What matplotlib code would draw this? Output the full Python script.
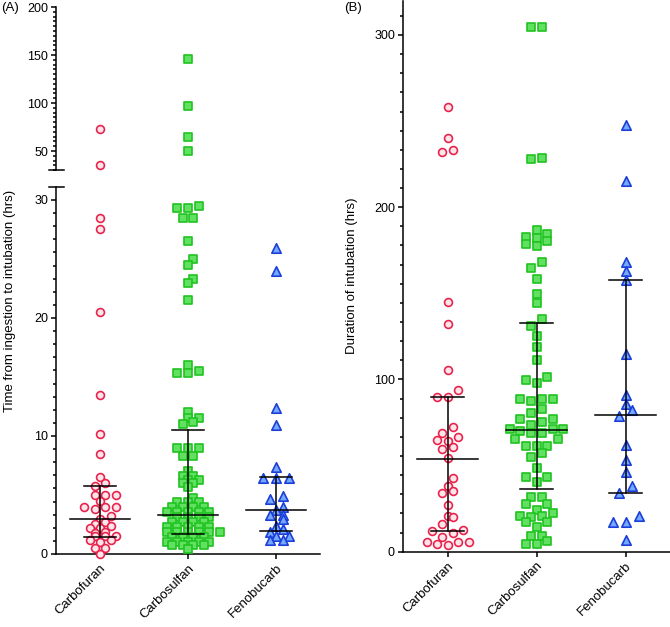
import matplotlib
matplotlib.use('Agg')
import matplotlib.pyplot as plt
import numpy as np
from matplotlib.ticker import MultipleLocator, AutoMinorLocator

plt.rcParams['font.family'] = ['Liberation Sans', 'DejaVu Sans']

#-------Dados-------#

grupos = ['Carbofuran', 'Carbosulfan', 'Fenobucarb']

# (A) tempo da ingestão até a intubação (horas)
inicio_carbofuran = [73, 35, 28.5, 27.5, 20.5, 13.5, 10.2, 8.5, 6.5, 6.0, 5.8,
                     5.0, 5.0, 5.0, 4.5, 4.0, 4.0, 4.0, 3.8, 3.2, 3.0, 2.7, 2.5,
                     2.4, 2.2, 2.2, 1.9, 1.8, 1.5, 1.5, 1.5, 1.2, 1.2, 1.0, 0.5,
                     0.5, 0.0]
inicio_carbosulfan = [146, 97, 65, 50,
                      29.5, 29.3, 29.3, 28.5, 28.5, 26.5, 25.0, 24.5, 23.3, 23.0, 21.5,
                      16.0, 15.5, 15.3, 15.3,
                      12.0, 11.5, 11.5, 11.2, 11.0,
                      9.0, 9.0, 9.0, 8.3, 8.3, 7.0, 6.6, 6.6, 6.3, 6.3, 6.0, 6.0, 5.7,
                      4.72, 4.43, 4.43, 4.43, 4.0, 4.0, 4.0, 4.0,
                      3.6, 3.6, 3.6, 3.6, 3.6, 3.16, 3.16, 3.16, 3.16,
                      2.74, 2.74, 2.74, 2.74, 2.3, 2.3, 2.3, 2.3, 2.3,
                      1.9, 1.9, 1.9, 1.9, 1.9, 1.9, 1.47, 1.47, 1.47, 1.47,
                      1.05, 1.05, 1.05, 1.05, 1.05, 0.8, 0.8, 0.8, 0.8, 0.42]
inicio_fenobucarb = [25.9, 24.0, 12.4, 10.9, 7.4, 6.4, 6.4, 6.4, 4.9, 4.7, 4.0,
                     3.7, 3.3, 3.3, 3.0, 2.4, 2.1, 1.9, 1.5, 1.5, 1.2, 1.2]

inicio_mediana = [3.0, 3.33, 3.73]
inicio_q1 = [1.45, 1.72, 1.95]
inicio_q3 = [5.8, 10.5, 6.5]

# (B) duração da intubação (horas)
duracao_carbofuran = [258, 240, 233, 232, 145, 132, 105.5, 94, 90, 90, 72.5,
                      68.7, 66.4, 64.8, 64.2, 61, 59.4, 54.2, 42.6, 38.2, 35.4,
                      34, 27, 20.7, 20, 16, 12.5, 12, 11, 8.7, 5.8, 5.6, 5.6,
                      4.5, 4.1]
duracao_carbosulfan = [304.5, 304.5, 228.5, 227.7, 186.9, 184.2, 182.6, 182.1,
                       180.5, 178.9, 177.4, 168.1, 164.7, 158.1, 149.4, 144.2,
                       134.9, 131.2, 125.0, 118.8, 111.1, 101.4, 99.6, 98.1,
                       88.8, 88.8, 88.8, 87.5, 82.6, 80.7, 76.8, 77.2, 75.3,
                       73.4, 71.0, 71.0, 71.0, 70.2, 68.7, 68.7, 65.4, 65.4,
                       61.5, 61.5, 61.5, 57.1, 54.8, 48.8, 43.2, 43.2, 40.6,
                       31.9, 31.9, 27.7, 27.7, 24.2, 22.3, 20.9, 20.9, 20.0,
                       17.4, 17.4, 14.5, 9.1, 9.1, 6.2, 4.3, 4.3]
duracao_fenobucarb = [248, 215, 168, 163, 158, 115, 91, 85.5, 82, 79, 62, 53,
                      46, 38, 34, 21, 17, 17, 7]

duracao_mediana = [54.0, 70.6, 79.3]
duracao_q1 = [12.0, 36.2, 34.1]
duracao_q3 = [90.0, 132.9, 157.9]

#-------Estilos-------#

estilos = [
    dict(marker='o', s=32, facecolor='#fde6eb', edgecolor='#e8244c'),
    dict(marker='s', s=30, facecolor='#62e062', edgecolor='#1fc41f'),
    dict(marker='^', s=46, facecolor='#74a9ff', edgecolor='#1c3ed8'),
]
ESPACO = [10.5, 10.7, 13.0]   # espaçamento horizontal entre pontos de uma linha (pixels)
LW = 1.1

W, H = 670, 627
fig = plt.figure(figsize=(W / 100, H / 100), dpi=100)


def eixo_px(esq, topo, dir, base):
    return fig.add_axes([esq / W, 1 - base / H, (dir - esq) / W, (base - topo) / H])


def enxame(valores, ax, espaco, altura):
    """Agrupa pontos próximos em linhas horizontais (como no Prism), centraliza
    e desloca meia posição quando a linha vizinha tem a mesma paridade."""
    valores = np.asarray(valores, dtype=float)
    if len(valores) == 0:
        return valores
    ys = ax.transData.transform(np.column_stack([np.zeros(len(valores)), valores]))[:, 1]
    ordem = list(np.argsort(ys, kind='stable'))
    xs = np.zeros(len(valores))
    linhas = []
    for i in ordem:
        if linhas and ys[i] - ys[linhas[-1][0]] <= altura:
            linhas[-1].append(i)
        else:
            linhas.append([i])
    ant_y, ant_n, ant_desl = -1e9, 0, 0.0
    for linha in linhas:
        n = len(linha)
        y = ys[linha[0]]
        desl = 0.0
        if y - ant_y < 8 and n % 2 == ant_n % 2 and ant_desl == 0:
            desl = espaco / 2
        pos = [(j - (n - 1) / 2) * espaco + desl for j in range(n)]
        pos.sort(key=lambda p: (abs(p), p))
        for i, p in zip(linha, pos):
            xs[i] = p
        ant_y, ant_n, ant_desl = y, n, desl
    px_unidade = ax.transData.transform((1, 0))[0] - ax.transData.transform((0, 0))[0]
    return xs / px_unidade


def desenhar_pontos(ax, series, vmin, vmax, altura):
    for k, serie in enumerate(series):
        v = np.array([x for x in serie if vmin <= x <= vmax])
        dx = enxame(v, ax, ESPACO[k], altura)
        ax.scatter(k + dx, v, linewidths=1.2, zorder=3, clip_on=False, **estilos[k])


def desenhar_resumo(ax, mediana, q1, q3):
    for k in range(len(mediana)):
        ax.plot([k - 0.34, k + 0.34], [mediana[k]] * 2, color='black', lw=LW, zorder=4)
        ax.plot([k, k], [q1[k], q3[k]], color='black', lw=LW, zorder=4)
        ax.plot([k - 0.18, k + 0.18], [q1[k]] * 2, color='black', lw=LW, zorder=4)
        ax.plot([k - 0.18, k + 0.18], [q3[k]] * 2, color='black', lw=LW, zorder=4)


def estilo_eixo(ax):
    for lado in ['top', 'right']:
        ax.spines[lado].set_visible(False)
    for lado in ['left', 'bottom']:
        ax.spines[lado].set_linewidth(LW)
    ax.tick_params(axis='both', which='major', length=3.8, width=LW, labelsize=9, pad=2)
    ax.tick_params(axis='y', which='minor', length=2.2, width=LW)
    ax.set_xlim(-0.5, 2.5)


def rotulos_x(ax):
    ax.set_xticks(range(len(grupos)))
    ax.set_xticklabels(grupos, rotation=45, ha='right', va='top', rotation_mode='anchor', fontsize=9.5)


#-------(A) eixo quebrado-------#

ax_a = eixo_px(56, 187, 320, 554)
ax_a_sup = eixo_px(56, 7, 320, 170.3)

ax_a.set_ylim(0, 31.1)
ax_a_sup.set_ylim(30, 200)
estilo_eixo(ax_a)
estilo_eixo(ax_a_sup)

ax_a.yaxis.set_major_locator(MultipleLocator(10))
ax_a.yaxis.set_minor_locator(AutoMinorLocator(9))
ax_a_sup.yaxis.set_minor_locator(MultipleLocator(5))
ax_a_sup.set_yticks([50, 100, 150, 200])
ax_a_sup.spines['bottom'].set_visible(False)
ax_a_sup.set_xticks([])
rotulos_x(ax_a)

# marcas nas extremidades da quebra
ax_a.plot([-0.025, 0.03], [1, 1], transform=ax_a.transAxes, color='black', lw=LW, clip_on=False)
ax_a_sup.plot([-0.025, 0.03], [0, 0], transform=ax_a_sup.transAxes, color='black', lw=LW, clip_on=False)

series_a = [inicio_carbofuran, inicio_carbosulfan, inicio_fenobucarb]
desenhar_pontos(ax_a, series_a, 0, 31, 2.6)
desenhar_pontos(ax_a_sup, series_a, 31.01, 200, 2.6)
desenhar_resumo(ax_a, inicio_mediana, inicio_q1, inicio_q3)

fig.text(10 / W, 1 - 301 / H, 'Time from ingestion to intubation (hrs)', rotation=90,
         ha='center', va='center', fontsize=9.5)
fig.text(1 / W, 1 - 8.5 / H, '(A)', ha='left', va='center', fontsize=9.5)

#-------(B)-------#

ax_b = eixo_px(403, 0.5, 670, 551.7)
ax_b.set_ylim(0, 320)
estilo_eixo(ax_b)
ax_b.yaxis.set_major_locator(MultipleLocator(100))
ax_b.yaxis.set_minor_locator(AutoMinorLocator(9))
rotulos_x(ax_b)

series_b = [duracao_carbofuran, duracao_carbosulfan, duracao_fenobucarb]
desenhar_pontos(ax_b, series_b, 0, 320, 7.0)
desenhar_resumo(ax_b, duracao_mediana, duracao_q1, duracao_q3)

fig.text(352 / W, 1 - 276 / H, 'Duration of intubation (hrs)', rotation=90,
         ha='center', va='center', fontsize=9.5)
fig.text(344 / W, 1 - 8.5 / H, '(B)', ha='left', va='center', fontsize=9.5)

fig.savefig('out.png', dpi=100)
